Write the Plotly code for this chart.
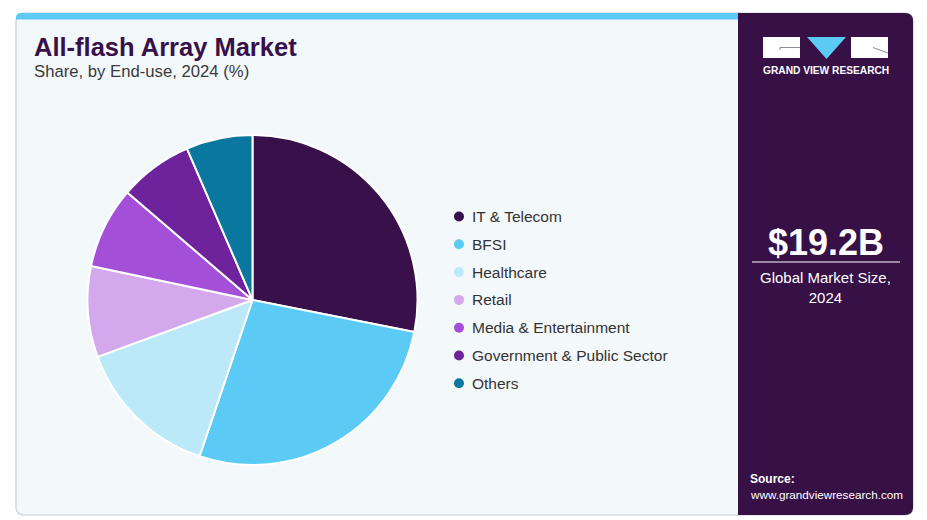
import plotly.graph_objects as go

W, H = 927, 520

categories = ["IT & Telecom", "BFSI", "Healthcare", "Retail",
              "Media & Entertainment", "Government & Public Sector", "Others"]
shares = [28.1, 27.1, 14.2, 8.9, 8.0, 7.2, 6.5]
colors = ["#38104A", "#5BCAF5", "#BCE9F9", "#D4A8EC", "#A34FD7", "#6E229C", "#0A779E"]

title = "All-flash Array Market"
subtitle = "Share, by End-use, 2024 (%)"
market_size = "$19.2B"
market_label = "Global Market Size,<br>2024"
source_label = "Source:"
source_url = "www.grandviewresearch.com"
brand = "GRAND VIEW RESEARCH"


def px(x):
    return x / W


def py(y):
    return 1 - y / H


def rounded_rect(x0, y0, x1, y1, r, corners=(True, True, True, True)):
    tl, tr, br, bl = corners
    rtl = r if tl else 0
    rtr = r if tr else 0
    rbr = r if br else 0
    rbl = r if bl else 0
    p = f"M {px(x0 + rtl)} {py(y0)} L {px(x1 - rtr)} {py(y0)} "
    if rtr:
        p += f"Q {px(x1)} {py(y0)} {px(x1)} {py(y0 + rtr)} "
    p += f"L {px(x1)} {py(y1 - rbr)} "
    if rbr:
        p += f"Q {px(x1)} {py(y1)} {px(x1 - rbr)} {py(y1)} "
    p += f"L {px(x0 + rbl)} {py(y1)} "
    if rbl:
        p += f"Q {px(x0)} {py(y1)} {px(x0)} {py(y1 - rbl)} "
    p += f"L {px(x0)} {py(y0 + rtl)} "
    if rtl:
        p += f"Q {px(x0)} {py(y0)} {px(x0 + rtl)} {py(y0)} "
    p += "Z"
    return p


shapes = []
shapes.append(dict(type="path", xref="paper", yref="paper",
                   path=rounded_rect(16, 13, 913, 515, 8),
                   fillcolor="#F3F8FB", line=dict(color="#C9CDD2", width=1.2), layer="below"))
shapes.append(dict(type="path", xref="paper", yref="paper",
                   path=rounded_rect(16, 13, 740, 19.5, 5, (True, False, False, False)),
                   fillcolor="#5BCAF5", line=dict(width=0), layer="below"))
shapes.append(dict(type="path", xref="paper", yref="paper",
                   path=rounded_rect(738, 13, 913, 515, 8, (False, True, True, False)),
                   fillcolor="#371046", line=dict(width=0), layer="below"))
# logo
shapes.append(dict(type="rect", xref="paper", yref="paper",
                   x0=px(763), x1=px(800), y0=py(58), y1=py(37),
                   fillcolor="white", line=dict(width=0)))
shapes.append(dict(type="path", xref="paper", yref="paper",
                   path=f"M {px(800)} {py(47.5)} L {px(780)} {py(47.5)} L {px(780)} {py(50)}",
                   line=dict(color="#8A8A9A", width=1)))
shapes.append(dict(type="path", xref="paper", yref="paper",
                   path=f"M {px(807)} {py(37)} L {px(846)} {py(37)} L {px(826.5)} {py(59)} Z",
                   fillcolor="#5BCAF5", line=dict(width=0)))
shapes.append(dict(type="rect", xref="paper", yref="paper",
                   x0=px(851), x1=px(888), y0=py(58), y1=py(37),
                   fillcolor="white", line=dict(width=0)))
shapes.append(dict(type="path", xref="paper", yref="paper",
                   path=f"M {px(873)} {py(47.5)} L {px(888)} {py(53)}",
                   line=dict(color="#8A8A9A", width=1)))
shapes.append(dict(type="line", xref="paper", yref="paper",
                   x0=px(752), x1=px(900), y0=py(262), y1=py(262),
                   line=dict(color="white", width=1)))

annotations = []
annotations.append(dict(text=f"<b>{title}</b>", x=px(32), y=py(47), xref="paper", yref="paper",
                        xanchor="left", yanchor="middle", showarrow=False,
                        font=dict(family="Liberation Sans", size=25.5, color="#38104A")))
annotations.append(dict(text=subtitle, x=px(32), y=py(72), xref="paper", yref="paper",
                        xanchor="left", yanchor="middle", showarrow=False,
                        font=dict(family="Liberation Sans", size=16.7, color="#3A3A3A")))
annotations.append(dict(text=f"<b>{brand}</b>", x=px(825.5), y=py(71), xref="paper", yref="paper",
                        xanchor="center", yanchor="middle", showarrow=False,
                        font=dict(family="Liberation Sans", size=10.2, color="white")))
annotations.append(dict(text=f"<b>{market_size}</b>", x=px(826), y=py(242), xref="paper", yref="paper",
                        xanchor="center", yanchor="middle", showarrow=False,
                        font=dict(family="Liberation Sans", size=36, color="white")))
annotations.append(dict(text=market_label, x=px(825.5), y=py(287), xref="paper", yref="paper",
                        xanchor="center", yanchor="middle", showarrow=False,
                        font=dict(family="Liberation Sans", size=15, color="white")))
annotations.append(dict(text=f"<b>{source_label}</b>", x=px(748), y=py(479), xref="paper", yref="paper",
                        xanchor="left", yanchor="middle", showarrow=False,
                        font=dict(family="Liberation Sans", size=12, color="white")))
annotations.append(dict(text=source_url, x=px(748), y=py(494), xref="paper", yref="paper",
                        xanchor="left", yanchor="middle", showarrow=False,
                        font=dict(family="Liberation Sans", size=11.7, color="white")))

leg_top, leg_step = 216.5, 27.8
for i, (lab, col) in enumerate(zip(categories, colors)):
    yc = leg_top + i * leg_step
    shapes.append(dict(type="circle", xref="paper", yref="paper",
                       x0=px(459 - 5), x1=px(459 + 5), y0=py(yc + 5), y1=py(yc - 5),
                       fillcolor=col, line=dict(width=0)))
    annotations.append(dict(text=lab, x=px(470), y=py(yc), xref="paper", yref="paper",
                            xanchor="left", yanchor="middle", showarrow=False,
                            font=dict(family="Liberation Sans", size=15.5, color="#333333")))

cx, cy, r = 252.5, 300, 165
fig = go.Figure(go.Pie(
    labels=categories, values=shares, sort=False, direction="clockwise", rotation=0,
    marker=dict(colors=colors, line=dict(color="white", width=2)),
    textinfo="none", hoverinfo="label+percent", showlegend=False,
    domain=dict(x=[px(cx - r), px(cx + r)], y=[py(cy + r), py(cy - r)]),
))

fig.update_layout(width=W, height=H, margin=dict(l=0, r=0, t=0, b=0),
                  paper_bgcolor="white", plot_bgcolor="white",
                  shapes=shapes, annotations=annotations, showlegend=False)

fig.write_html("out.html", config={"displayModeBar": False},
               post_script="document.body.style.margin='0';document.body.style.overflow='hidden';")
